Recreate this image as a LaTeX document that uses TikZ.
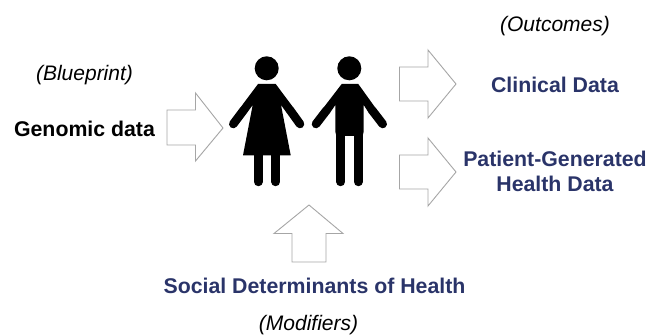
\documentclass[tikz,border=0pt]{standalone}
\usepackage{fontspec}
\setmainfont{Liberation Sans}
\definecolor{navy}{HTML}{2A3469}
\definecolor{arrowgray}{HTML}{A6A6A6}
\tikzset{
  x=1pt,y=-1pt,
  hollow/.style={draw=arrowgray,line width=0.9pt,fill=white,line join=miter},
  ink/.style={fill=black,draw=none},
  limb/.style={draw=black,line width=8.6pt,line cap=round},
  lbl/.style={font=\fontsize{21.3}{25}\selectfont\bfseries,align=center,inner sep=0pt},
  navylbl/.style={lbl,text=navy},
  note/.style={font=\fontsize{21}{25}\selectfont\itshape,inner sep=0pt}
}
\begin{document}
\begin{tikzpicture}
\useasboundingbox (0,0) rectangle (659,336);
% hollow arrows
\draw[hollow] (167,110)--(195.5,110)--(195.5,93)--(223,128)--(195.5,161)--(195.5,145)--(167,145)--cycle;
\draw[hollow] (399.5,67)--(428,67)--(428,50)--(456,84)--(428,118)--(428,101)--(399.5,101)--cycle;
\draw[hollow] (399.5,155)--(428,155)--(428,138)--(456,172)--(428,206)--(428,189)--(399.5,189)--cycle;
\draw[hollow] (309,205)--(343,233.5)--(326,233.5)--(326,262)--(292,262)--(292,233.5)--(274,233.5)--cycle;
% woman
\fill[ink] (266.7,68.3) circle (12);
\draw[limb] (258.3,150)--(258.3,181.9);
\draw[limb] (275.7,150)--(275.7,181.9);
\draw[limb] (233.3,124)--(243.4,110.5);
\draw[limb] (300,124)--(290.3,110.5);
\fill[ink] (258,84)--(240,108.1)--(246.8,113.1)--(252.7,105)--(243,155.3)--(290.7,155.3)--(281,105)--(286.9,113.1)--(293.7,108.1)--(275.7,84)--cycle;
% man
\fill[ink] (349.3,68.3) circle (12);
\draw[limb] (340.7,130)--(340.7,181.9);
\draw[limb] (358.3,130)--(358.3,181.9);
\draw[limb] (316,124)--(326.4,110.5);
\draw[limb] (382.7,124)--(372.3,110.5);
\fill[ink] (341.7,84)--(323.2,108.1)--(329.8,113.1)--(335.3,105)--(335.3,131.7)--(336.4,136)--(362.6,136)--(363.7,131.7)--(363.7,105)--(368.9,113.1)--(375.6,108.1)--(358.3,84)--cycle;
% labels
\node[note] (blueprint) at (84.5,75) {(Blueprint)};
\node[lbl] (genomic) at (84.5,128.5) {Genomic data};
\node[note] (outcomes) at (555,26.5) {(Outcomes)};
\node[navylbl] (clinical) at (555,85) {Clinical Data};
\node[navylbl] (patient) at (555,171) {Patient-Generated\\Health Data};
\node[navylbl] (social) at (314.5,286) {Social Determinants of Health};
\node[note] (modifiers) at (308.5,325.5) {(Modifiers)};
\end{tikzpicture}
\end{document}
